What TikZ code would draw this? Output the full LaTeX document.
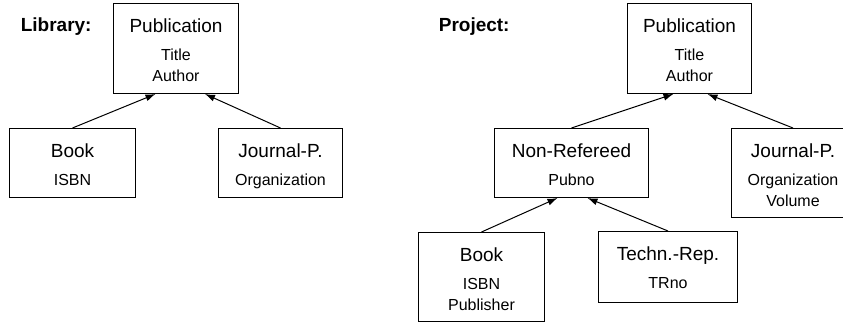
\documentclass[tikz,border=0pt]{standalone}
\usepackage{fontspec}
\setmainfont{Liberation Sans}
\usetikzlibrary{arrows.meta}

% class box: width, height, class name, attributes
\newcommand{\classtext}[4]{%
  \begin{minipage}[t][#2][t]{#1}\centering
    \fontsize{19}{21}\selectfont\rule{0pt}{29pt}#3\par\vspace{7pt}
    \fontsize{16}{21}\selectfont #4\par
  \end{minipage}}

\begin{document}
\begin{tikzpicture}[x=1pt, y=-1pt, line width=1pt,
    cls/.style={draw, inner sep=0pt, anchor=north west},
    isa/.style={-{Latex[length=10pt, width=7pt]}},
    head/.style={anchor=base west, font=\fontsize{19}{21}\selectfont\bfseries}]
    \useasboundingbox (0,0) rectangle (843,324);
    % Library
    \node[head] (libhead) at (17,31) {Library:};
    \node[cls] (lpub)  at (113,3)   {\classtext{125pt}{90pt}{Publication}{Title\\Author}};
    \node[cls] (lbook) at (9,128)   {\classtext{126pt}{69pt}{Book}{ISBN}};
    \node[cls] (ljour) at (218,128) {\classtext{124pt}{69pt}{Journal-P.}{Organization}};
    \draw[isa] (lbook.north) -- ([xshift=-20.5pt]lpub.south);
    \draw[isa] (ljour.north) -- ([xshift=29pt]lpub.south);
    % Project
    \node[head] (prjhead) at (435,31) {Project:};
    \node[cls] (ppub)    at (627,3)   {\classtext{124pt}{90pt}{Publication}{Title\\Author}};
    \node[cls] (pnonref) at (494,128) {\classtext{154pt}{69pt}{Non-Refereed}{Pubno}};
    \node[cls] (pjour)   at (731,128) {\classtext{123pt}{89pt}{Journal-P.}{Organization\\Volume}};
    \node[cls] (pbook)   at (418,232) {\classtext{126pt}{89pt}{Book}{ISBN\\Publisher}};
    \node[cls] (ptech)   at (598,231) {\classtext{139pt}{71pt}{Techn.-Rep.}{TRno}};
    \draw[isa] (pnonref.north) -- ([xshift=-16pt]ppub.south);
    \draw[isa] (pjour.north) -- ([xshift=18pt]ppub.south);
    \draw[isa] (pbook.north) -- ([xshift=-14pt]pnonref.south);
    \draw[isa] (ptech.north) -- ([xshift=16pt]pnonref.south);
\end{tikzpicture}
\end{document}
